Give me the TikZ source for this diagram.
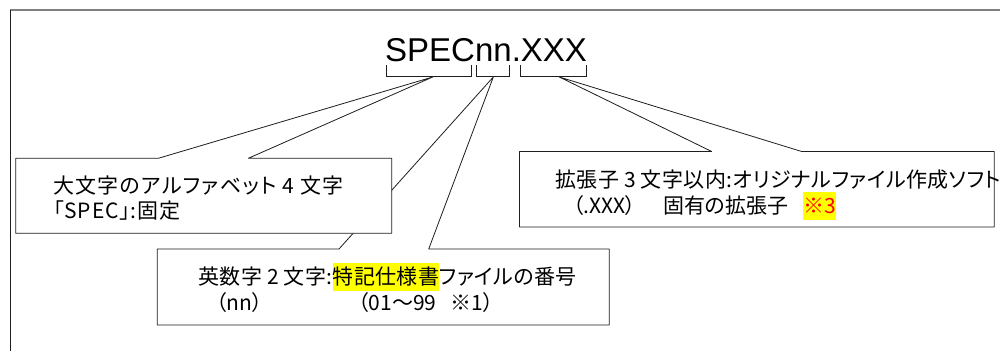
\documentclass[tikz,border=0pt]{standalone}
\usepackage{fontspec}
\setmainfont{Liberation Sans}
\newfontfamily\jpfont[RawFeature=+palt]{Noto Sans CJK JP}
\newfontfamily\jpfontmid[RawFeature=+palt, LetterSpace=4]{Noto Sans CJK JP}
\newfontfamily\jpfontext[RawFeature=+palt, LetterSpace=2]{Noto Sans CJK JP}
\newfontfamily\jpfontwide[RawFeature=+palt, LetterSpace=6]{Noto Sans CJK JP}
\newfontfamily\jpfontslight[RawFeature=+palt, LetterSpace=2]{Noto Sans CJK JP}
\definecolor{hlyellow}{RGB}{255,255,0}
\definecolor{marknred}{RGB}{255,0,0}
\definecolor{framegray}{RGB}{128,128,128}
\definecolor{linedark}{RGB}{30,30,30}
\newcommand{\hlmark}[1]{{\setlength{\fboxsep}{0pt}\colorbox{hlyellow}{\rule[-6.5pt]{0pt}{28pt}#1}}}
\tikzset{
  callout/.style={draw=linedark, fill=white, line width=0.8pt, line join=round},
  bracketline/.style={draw=linedark, line width=0.9pt},
  jptext/.style={inner sep=0pt, anchor=base west, font=\jpfont\fontsize{21}{25}\selectfont},
  titletext/.style={inner sep=0pt, anchor=base west, font=\fontsize{33}{36}\selectfont}
}
\begin{document}
\begin{tikzpicture}[x=1pt,y=-1pt]
\useasboundingbox (0,0) rectangle (1000,351);
\fill[white] (0,0) rectangle (1000,351);
% frame
\draw[framegray, line width=1.3pt] (10,10) -- (1000,10);
\draw[linedark, line width=1pt] (10.5,10) -- (10.5,351);
% title
\node[titletext] (title) at (385,61) {SPECnn.XXX};
% brackets
\draw[bracketline] (386.7,65) |- (471.3,76) -- (471.3,65);
\draw[bracketline] (476.3,65) |- (509.3,76) -- (509.3,65);
\draw[bracketline] (520.7,65) |- (586,76) -- (586,65);
\coordinate (tipA) at (432.7,77);
\coordinate (tipB) at (493.3,77);
\coordinate (tipC) at (559.3,77);
% callout 2 (behind callout 1)
\draw[callout] (157.3,249) -- (339,249) -- (tipB) -- (428.7,249) -- (609.3,249) -- (609.3,325) -- (157.3,325) -- cycle;
% callout 1
\draw[callout] (15.7,158.3) -- (158.3,158.3) -- (tipA) -- (248.3,158.3) -- (391.7,158.3) -- (391.7,233.3) -- (15.7,233.3) -- cycle;
% callout 3
\draw[callout] (519.5,151.5) -- (711.7,151.5) -- (tipC) -- (801.7,151.5) -- (994.3,151.5) -- (994.3,227) -- (519.5,227) -- cycle;
% texts box 1
\node[jptext, font=\jpfontwide\fontsize{21}{25}\selectfont] (b1a) at (53,193) {大文字のアルファベット 4 文字};
\node[jptext, font=\jpfontmid\fontsize{21}{25}\selectfont] (b1b) at (53,218) {「SPEC」:固定};
% texts box 2
\node[jptext, font=\jpfontslight\fontsize{21}{25}\selectfont] (b2a) at (198,284) {英数字 2 文字:\hlmark{特記仕様書}ファイルの番号};
\node[jptext] (b2b) at (216,310.5) {（nn）};
\node[jptext] (b2c) at (358,310.5) {（01～99~~~※1）};
% texts box 3
\node[jptext, font=\jpfontext\fontsize{21}{25}\selectfont] (b3a) at (555,187) {拡張子 3 文字以内:オリジナルファイル作成ソフト};
\node[jptext] (b3b) at (573,213) {（.XXX）};
\node[jptext] (b3c) at (663,213) {固有の拡張子};
\node[jptext, text=marknred] (b3d) at (803,213) {\hlmark{※3}};
\end{tikzpicture}
\end{document}
